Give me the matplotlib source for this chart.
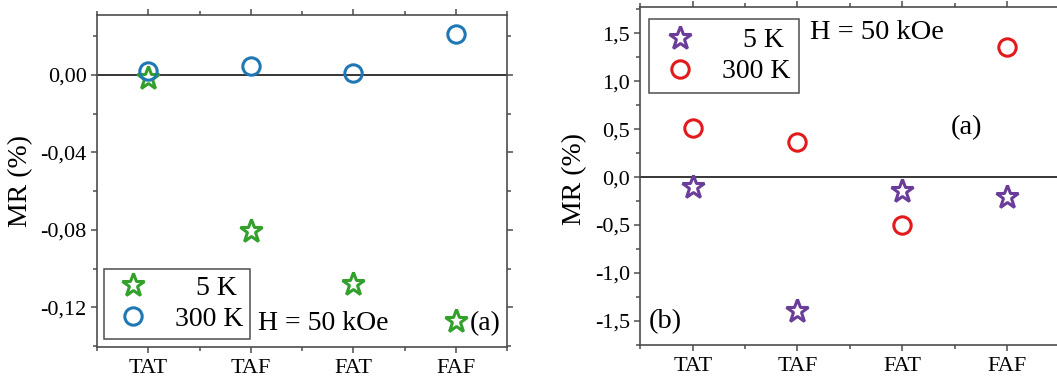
import matplotlib
matplotlib.use("Agg")
import matplotlib.pyplot as plt
from matplotlib.ticker import MultipleLocator, FuncFormatter

plt.rcParams["font.family"] = ["Liberation Serif", "DejaVu Serif"]

configs = ["TAT", "TAF", "FAT", "FAF"]

# MR (%) of the first sample set
mr_a_5k = [-0.0016, -0.0805, -0.108, -0.127]
mr_a_300k = [0.002, 0.0045, 0.001, 0.021]

# MR (%) of the second sample set
mr_b_5k = [-0.10, -1.40, -0.15, -0.21]
mr_b_300k = [0.51, 0.365, -0.50, 1.36]

SPINE = "#4d4d4d"


def comma_fmt(decimals):
    def fmt(v, pos):
        s = f"{v:.{decimals}f}".replace(".", ",")
        if s.lstrip("-").strip("0,") == "":
            s = s.lstrip("-")
        return s
    return FuncFormatter(fmt)


def style_axes(ax):
    x = range(1, len(configs) + 1)
    ax.set_xlim(0.5, 4.5)
    ax.set_xticks(list(x))
    ax.set_xticklabels(configs)
    ax.xaxis.set_minor_locator(MultipleLocator(0.5))
    for s in ax.spines.values():
        s.set_color(SPINE)
        s.set_linewidth(1.2)
    ax.tick_params(which="both", direction="out", top=True, right=True,
                   color=SPINE, width=1.1, labelsize=16, pad=3)
    ax.tick_params(which="major", length=4.5)
    ax.tick_params(which="minor", length=3)
    ax.tick_params(axis="x", which="major", labeltop=False, pad=4)
    ax.axhline(0, color="black", lw=1.1, zorder=1)
    ax.set_ylabel("MR (%)", fontsize=20)


fig = plt.figure(figsize=(10.57, 3.81), dpi=100)

# panel (a)
ax1 = fig.add_axes([0.0918, 0.0892, 0.3879, 0.8714])
style_axes(ax1)
x = range(1, 5)
ax1.plot(x, mr_a_5k, ls="none", marker="*", ms=17, mfc="white",
         mec="#33a02c", mew=2.2, label="   5 K", zorder=3)
ax1.plot(x, mr_a_300k, ls="none", marker="o", ms=12.5, mfc="none",
         mec="#1f77b4", mew=2.2, label="300 K", zorder=3)
ax1.set_ylim(-0.1405, 0.031)
ax1.yaxis.set_major_locator(MultipleLocator(0.04))
ax1.yaxis.set_minor_locator(MultipleLocator(0.02))
ax1.yaxis.set_major_formatter(comma_fmt(2))
ax1.yaxis.set_label_coords(-0.156, 0.5)
leg1 = ax1.legend(loc="lower left", bbox_to_anchor=(0.017, 0.024),
                  borderaxespad=0, fontsize=20, frameon=True, fancybox=False,
                  edgecolor="#222222", handletextpad=0.7, borderpad=0.25,
                  labelspacing=0.2, handlelength=1.6)
leg1.get_frame().set_linewidth(1.1)
ax1.text(0.393, 0.072, "H = 50 kOe", transform=ax1.transAxes, fontsize=20,
         ha="left", va="center")
ax1.text(0.908, 0.072, "(a)", transform=ax1.transAxes, fontsize=20,
         ha="left", va="center")

# panel (b)
ax2 = fig.add_axes([0.6058, 0.0945, 0.3964, 0.8866])
style_axes(ax2)
ax2.plot(x, mr_b_5k, ls="none", marker="*", ms=17, mfc="white",
         mec="#6a3d9a", mew=2.2, label="   5 K", zorder=3)
ax2.plot(x, mr_b_300k, ls="none", marker="o", ms=12.5, mfc="none",
         mec="#e31a1c", mew=2.2, label="300 K", zorder=3)
ax2.set_ylim(-1.75, 1.77)
ax2.yaxis.set_major_locator(MultipleLocator(0.5))
ax2.yaxis.set_minor_locator(MultipleLocator(0.25))
ax2.yaxis.set_major_formatter(comma_fmt(1))
ax2.yaxis.set_label_coords(-0.128, 0.49)
leg2 = ax2.legend(loc="upper left", bbox_to_anchor=(0.021, 0.965),
                  borderaxespad=0, fontsize=20, frameon=True, fancybox=False,
                  edgecolor="#222222", handletextpad=0.7, borderpad=0.32,
                  labelspacing=0.2, handlelength=1.6)
leg2.get_frame().set_linewidth(1.1)
ax2.text(0.405, 0.924, "H = 50 kOe", transform=ax2.transAxes, fontsize=20.5,
         ha="left", va="center")
ax2.text(0.742, 0.643, "(a)", transform=ax2.transAxes, fontsize=20.5,
         ha="left", va="center")
ax2.text(0.020, 0.068, "(b)", transform=ax2.transAxes, fontsize=20.5,
         ha="left", va="center")

fig.savefig("out.png", dpi=100)
